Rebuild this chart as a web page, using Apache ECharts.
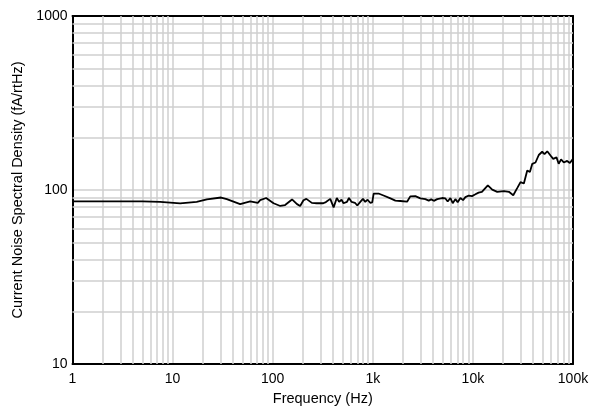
<!DOCTYPE html>
<html>
<head>
<meta charset="utf-8">
<script src="https://cdn.jsdelivr.net/npm/echarts@6/dist/echarts.min.js"></script>
<style>html,body{margin:0;padding:0;background:#fff;}#c{width:595px;height:411px;}</style>
</head>
<body>
<div id="c"></div>
<script>
const freqHz = [1, 2, 5, 7.5, 11.9, 17.4, 22, 30.5, 34.8, 47.3, 59.6, 71, 75, 86, 102, 119, 133, 156, 175, 188, 203, 217, 246, 275, 320, 340, 376, 406, 437, 461, 487, 510, 552, 578, 614, 663, 700, 750, 797, 841, 887, 942, 987, 1020, 1140, 1280, 1500, 1680, 1880, 2200, 2370, 2660, 2990, 3350, 3620, 3830, 4070, 4400, 4930, 5310, 5600, 5960, 6290, 6680, 7050, 7500, 7970, 8410, 9100, 9800, 10600, 11400, 12300, 14100, 15600, 17500, 18200, 20400, 22900, 25300, 27700, 29900, 32300, 34900, 37100, 39200, 42200, 45500, 49200, 51900, 55300, 59600, 63400, 68400, 72000, 76000, 80900, 87400, 93000, 100000];
const noiseFA = [86, 86, 86, 85.5, 83.8, 85.5, 88.3, 90.6, 88.6, 83, 86, 84.5, 87.5, 90, 84, 81, 82, 88.3, 83, 81, 87.3, 89, 84.4, 84, 84, 85.3, 89, 79.5, 90, 85.5, 88, 84, 85.5, 90, 85.5, 84.5, 81.5, 85.5, 89, 85.5, 88, 84.5, 85, 95.5, 95.5, 93, 89.5, 87, 86.5, 85.7, 92, 92.3, 89.5, 88.7, 87, 88.4, 86.7, 88.7, 90, 89.5, 86, 90, 84, 88.7, 85, 90, 87.5, 91, 93, 92.3, 94.5, 96.7, 97.6, 106.5, 100.6, 97.7, 97, 98.5, 97.7, 93.4, 102.5, 111, 109, 129.6, 127, 141.5, 144, 159, 166, 161, 167, 158, 151, 154, 141.5, 150, 144, 147, 143, 151];
const xTickLabels = {1: '1', 10: '10', 100: '100', 1000: '1k', 10000: '10k', 100000: '100k'};
const yTickLabels = {10: '10', 100: '100', 1000: '1000'};
const xMinor = [2,3,4,5,6,7,8,9,20,30,40,50,60,70,80,90,200,300,400,500,600,700,800,900,2000,3000,4000,5000,6000,7000,8000,9000,20000,30000,40000,50000,60000,70000,80000,90000];
const yMinor = [20,30,40,50,60,70,80,90,200,300,400,500,600,700,800,900];

const gridColor = '#cfcfcf';
const font = 'Liberation Sans, Arial, sans-serif';
const chart = echarts.init(document.getElementById('c'));
const fw = (v, m) => m[Math.round(v)] !== undefined ? m[Math.round(v)] : '';
chart.setOption({
  animation: false,
  grid: {left: 72.5, right: 22, top: 16, bottom: 44, containLabel: false},
  xAxis: [{
    type: 'log', logBase: 10, min: 1, max: 100000,
    name: 'Frequency (Hz)', nameLocation: 'middle', nameGap: 24,
    nameTextStyle: {fontFamily: font, fontSize: 14.5, color: '#000'},
    axisLine: {show: true, onZero: false, lineStyle: {color: '#000', width: 2}},
    axisTick: {show: false},
    axisLabel: {fontFamily: font, fontSize: 14, color: '#000', margin: 8, formatter: v => fw(v, xTickLabels)},
    splitLine: {show: true, lineStyle: {color: gridColor, width: 1.5}},
    minorTick: {show: false}
  }, {
    type: 'log', logBase: 10, min: 1, max: 100000, position: 'top',
    axisLine: {show: true, lineStyle: {color: '#000', width: 2}},
    axisTick: {show: false}, axisLabel: {show: false}, splitLine: {show: false}
  }],
  yAxis: [{
    type: 'log', logBase: 10, min: 10, max: 1000,
    name: 'Current Noise Spectral Density (fA/rtHz)', nameLocation: 'middle', nameGap: 44.5,
    nameTextStyle: {fontFamily: font, fontSize: 14.5, color: '#000'},
    axisLine: {show: true, onZero: false, lineStyle: {color: '#000', width: 2}},
    axisTick: {show: false},
    axisLabel: {fontFamily: font, fontSize: 14, color: '#000', margin: 5, formatter: v => fw(v, yTickLabels)},
    splitLine: {show: true, lineStyle: {color: gridColor, width: 1.5}}
  }, {
    type: 'log', logBase: 10, min: 10, max: 1000, position: 'right',
    axisLine: {show: true, lineStyle: {color: '#000', width: 2}},
    axisTick: {show: false}, axisLabel: {show: false}, splitLine: {show: false}
  }],
  series: [{
    type: 'line', data: [], z: 1, silent: true,
    markLine: {
      silent: true, symbol: 'none', animation: false,
      label: {show: false},
      lineStyle: {color: gridColor, width: 1.5, type: 'solid'},
      emphasis: {disabled: true},
      data: xMinor.map(v => ({xAxis: v})).concat(yMinor.map(v => ({yAxis: v})))
    }
  }, {
    type: 'line', z: 5,
    data: freqHz.map((f, i) => [f, noiseFA[i]]),
    showSymbol: false, symbol: 'none',
    lineStyle: {color: '#000', width: 1.8},
    smooth: false
  }]
});
</script>
</body>
</html>
